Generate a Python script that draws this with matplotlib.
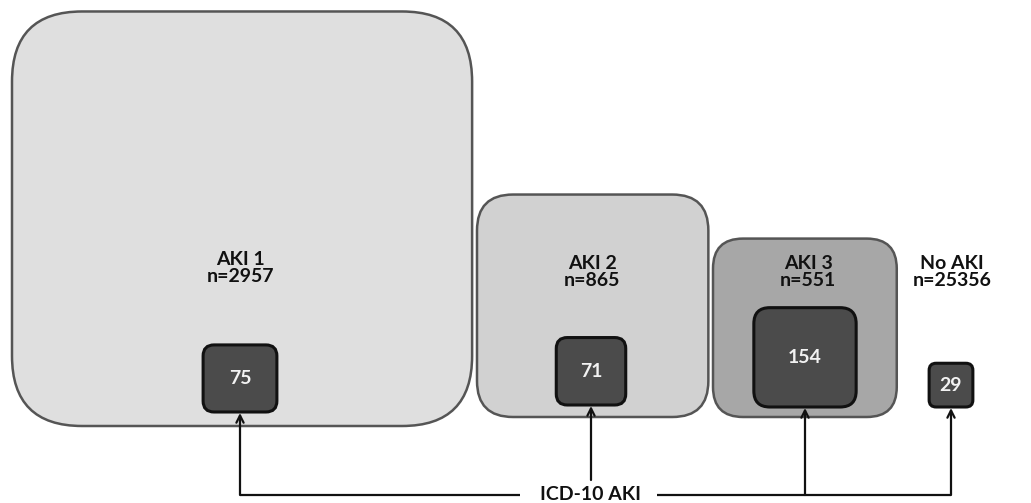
import numpy as np
import matplotlib.pyplot as plt
from matplotlib.patches import FancyBboxPatch

plt.rcParams['font.family'] = ['Lato', 'DejaVu Sans']

# === Dati ===
groups = ['AKI 1', 'AKI 2', 'AKI 3', 'No AKI']
n_total = [2957, 865, 551, 25356]
n_icd = [75, 71, 154, 29]
outer_fill = ['#dfdfdf', '#d1d1d1', '#a7a7a7', None]
icd_label = 'ICD-10 AKI'

# === Layout (pixel) ===
outer_px_per_unit = [64.5, 59.5, 59.5]
inner_px_per_unit = 66.0
outer_aspect = [1.11, 1.04, 1.03]
outer_left = [12, 477, 713]
outer_bottom = [426, 417, 417]
outer_radius = [70, 36, 30]
inner_aspect = [1.1, 1.03, 1.03, 1.0]
inner_cx = [240, 591, 805, 951]
inner_bottom = [412, 405, 407, 407]
inner_radius = [11, 11, 16, 7]
label_cx = [240, 592, 808, 952]
label_y = [268, 272, 272, 272]
line_y = 495

W, H = 1031, 503
fig = plt.figure(figsize=(W / 100, H / 100), dpi=100)
ax = fig.add_axes([0, 0, 1, 1])
ax.set_xlim(0, W)
ax.set_ylim(H, 0)
ax.axis('off')


def box_size(n, k, aspect):
    area = n * k
    w = np.sqrt(area * aspect)
    return w, area / w


# riquadri esterni
for i in range(3):
    w, h = box_size(n_total[i], outer_px_per_unit[i], outer_aspect[i])
    r = outer_radius[i]
    p = FancyBboxPatch((outer_left[i], outer_bottom[i] - h), w, h,
                       boxstyle=f'round,pad=0,rounding_size={r}',
                       fc=outer_fill[i], ec='#555555', lw=1.8, zorder=1)
    ax.add_patch(p)

# etichette gruppi
for i, g in enumerate(groups):
    ax.text(label_cx[i], label_y[i], f'{g}\nn={n_total[i]}', ha='center', va='center',
            fontsize=14, fontweight='bold', color='#111111', linespacing=1.05, zorder=3)

# riquadri ICD
for i, v in enumerate(n_icd):
    w, h = box_size(v, inner_px_per_unit, inner_aspect[i])
    r = inner_radius[i]
    p = FancyBboxPatch((inner_cx[i] - w / 2, inner_bottom[i] - h), w, h,
                       boxstyle=f'round,pad=0,rounding_size={r}',
                       fc='#4b4b4b', ec='#111111', lw=2.2, zorder=2)
    ax.add_patch(p)
    ax.text(inner_cx[i], inner_bottom[i] - h / 2, str(v), ha='center', va='center',
            fontsize=14, fontweight='bold', color='#f2f2f2', zorder=3)

# frecce ICD-10
arrow_kw = dict(arrowstyle='->', lw=1.6, color='#111111', shrinkA=0, shrinkB=0,
                mutation_scale=13)
for i in range(4):
    start = 480 if i == 1 else line_y
    ax.annotate('', xy=(inner_cx[i], inner_bottom[i] + 1), xytext=(inner_cx[i], start),
                arrowprops=arrow_kw, zorder=4)

ax.plot([inner_cx[0], 520], [line_y, line_y], color='#111111', lw=1.6, solid_capstyle='butt')
ax.plot([657, inner_cx[3]], [line_y, line_y], color='#111111', lw=1.6, solid_capstyle='butt')
ax.text(590, line_y - 1, icd_label, ha='center', va='center', fontsize=14,
        fontweight='bold', color='#111111')

fig.savefig('out.png', dpi=100)
